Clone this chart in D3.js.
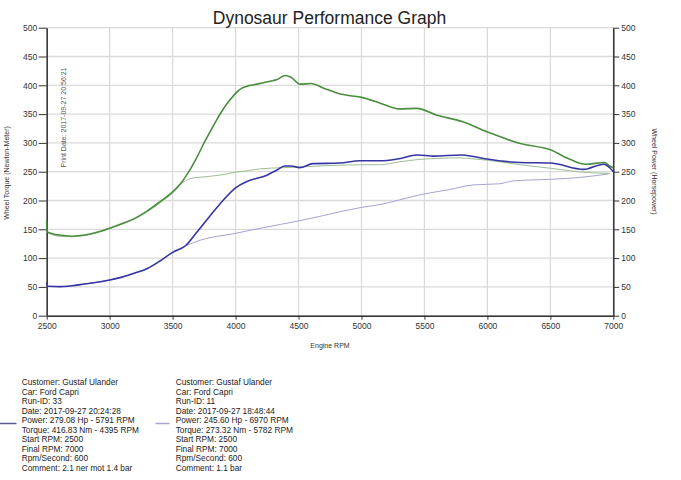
<!DOCTYPE html>
<html>
<head>
<meta charset="utf-8">
<script src="https://cdn.jsdelivr.net/npm/d3@7/dist/d3.min.js"></script>
<style>
  html, body { margin: 0; padding: 0; background: #fff; }
  svg { display: block; font-family: "Liberation Sans", Arial, sans-serif; }
</style>
</head>
<body>
<svg id="chart" width="681" height="480"></svg>
<script>
// ---------- DATA ----------
const xTicks = [2500, 3000, 3500, 4000, 4500, 5000, 5500, 6000, 6500, 7000];
const yTicks = [0, 50, 100, 150, 200, 250, 300, 350, 400, 450, 500];

// Run 33 – wheel torque (Nm)
const run33TorqueRpm = [2500, 2502, 2550, 2600, 2700, 2800, 2900, 3000, 3100, 3200, 3300, 3400, 3500, 3580, 3620, 3700, 3750, 3800, 3850, 3900, 3950, 4000, 4050, 4100, 4170, 4275, 4330, 4395, 4440, 4512, 4600, 4700, 4830, 4910, 5000, 5150, 5300, 5440, 5600, 5800, 6000, 6260, 6500, 6660, 6780, 6930, 6970, 7000];
const run33Torque    = [165, 146, 142, 140, 138, 140, 145, 152, 160, 169, 182, 198, 215, 234, 247, 278, 300, 320, 340, 358, 373, 386, 395, 399, 402, 407, 410, 417, 414, 402, 403, 395, 385, 382, 379, 369, 359, 360, 348, 337, 319, 299, 288, 271, 263, 266, 260, 257];

// Run 11 – wheel torque (Nm)
const run11TorqueRpm = [2500, 2520, 2600, 2700, 2800, 2900, 3000, 3100, 3200, 3300, 3400, 3500, 3580, 3640, 3700, 3800, 3900, 4000, 4100, 4200, 4376, 4500, 4773, 5000, 5143, 5300, 5443, 5600, 5782, 5900, 6000, 6262, 6500, 6765, 6976];
const run11Torque    = [148, 143, 138, 137, 139, 144, 151, 159, 168, 181, 196, 213, 231, 238, 240, 242, 245, 249, 252, 255, 257, 258, 261, 262, 262, 267, 271, 273, 274, 272, 270, 262, 256, 249, 247];

// Run 33 – wheel power (hp)
const run33PowerRpm = [2500, 2505, 2600, 2700, 2800, 2900, 3000, 3100, 3200, 3300, 3400, 3500, 3600, 3700, 3800, 3900, 4000, 4090, 4249, 4329, 4390, 4440, 4508, 4614, 4826, 4985, 5150, 5284, 5443, 5575, 5791, 5900, 5998, 6262, 6500, 6765, 6923, 6976, 7000];
const run33Power    = [58, 51, 50.5, 52, 55, 58, 62, 67, 74, 82, 95, 110, 121, 147, 174, 200, 222, 233, 244, 253, 260, 260, 257, 264, 265, 269, 269, 272, 279, 277, 279, 276, 272, 266, 265, 254, 263, 256, 250];

// Run 11 – wheel power (hp)
const run11PowerRpm = [2500, 2600, 2700, 2800, 2900, 3000, 3100, 3200, 3300, 3400, 3500, 3600, 3718, 4000, 4200, 4511, 4700, 4829, 5000, 5171, 5300, 5489, 5700, 5886, 6097, 6203, 6521, 6733, 6958];
const run11Power    = [52, 50.5, 52, 55, 58, 62, 67, 74, 82, 95, 110, 121, 131, 143, 152, 165, 174, 180.5, 188, 194, 201, 211, 219, 227, 229, 234, 237, 240, 246];

const legend33 = ["Customer: Gustaf Ulander", "Car: Ford Capri", "Run-ID: 33", "Date: 2017-09-27 20:24:28", "Power: 279.08 Hp - 5791 RPM", "Torque: 416.83 Nm - 4395 RPM", "Start RPM: 2500", "Final RPM: 7000", "Rpm/Second: 600", "Comment: 2.1 ner mot 1.4 bar"];
const legend11 = ["Customer: Gustaf Ulander", "Car: Ford Capri", "Run-ID: 11", "Date: 2017-09-27 18:48:44", "Power: 245.60 Hp - 6970 RPM", "Torque: 273.32 Nm - 5782 RPM", "Start RPM: 2500", "Final RPM: 7000", "Rpm/Second: 600", "Comment: 1.1 bar"];

// ---------- CHART ----------
const svg = d3.select("#chart");
const L = 46.7, R = 613.3, T = 27.7, B = 315.7;
const x = d3.scaleLinear().domain([2500, 7000]).range([L, R]);
const y = d3.scaleLinear().domain([0, 500]).range([B, T]);

// grid
const grid = svg.append("g");
grid.selectAll("line.v").data(xTicks).join("line")
  .attr("x1", d => x(d)).attr("x2", d => x(d)).attr("y1", T).attr("y2", B)
  .attr("stroke", "#dadada").attr("stroke-width", 1.3);
grid.selectAll("line.h").data(yTicks).join("line")
  .attr("x1", L).attr("x2", R).attr("y1", d => y(d)).attr("y2", d => y(d))
  .attr("stroke", "#dadada").attr("stroke-width", 1.3);

function styleAxis(g) {
  g.selectAll("path").attr("stroke", "#333").attr("stroke-width", 1.5);
  g.selectAll("line").attr("stroke", "#333").attr("stroke-width", 1);
  g.selectAll("text").attr("fill", "#333").style("font-size", "8.5px")
    .style("font-family", "'Liberation Sans', Arial, sans-serif");
}

svg.append("g").attr("transform", `translate(0,${B})`)
  .call(d3.axisBottom(x).tickValues(xTicks).tickSize(4).tickPadding(3).tickSizeOuter(0).tickFormat(d3.format("d")))
  .call(styleAxis);
svg.append("g").attr("transform", `translate(${L},0)`)
  .call(d3.axisLeft(y).tickValues(yTicks).tickSize(8).tickPadding(1.5).tickSizeOuter(0).tickFormat(d3.format("d")))
  .call(styleAxis);
svg.append("g").attr("transform", `translate(${R},0)`)
  .call(d3.axisRight(y).tickValues(yTicks).tickSize(6).tickPadding(2).tickSizeOuter(0).tickFormat(d3.format("d")))
  .call(styleAxis);

// lines
const line = d3.line().x(d => x(d[0])).y(d => y(d[1])).curve(d3.curveMonotoneX);
function series(rpm, vals, color, width) {
  svg.append("path").datum(rpm.map((r, i) => [r, vals[i]]))
    .attr("d", line).attr("fill", "none").attr("stroke", color)
    .attr("stroke-width", width).attr("stroke-linejoin", "round");
}
series(run11TorqueRpm, run11Torque, "#9dbd95", 1);
series(run11PowerRpm, run11Power, "#a3a3d3", 1);
series(run33TorqueRpm, run33Torque, "#4a8e3e", 1.6);
series(run33PowerRpm, run33Power, "#3535a3", 1.6);

// title & labels
svg.append("text").attr("x", 329.5).attr("y", 24).attr("text-anchor", "middle")
  .style("font-size", "17.5px").attr("fill", "#222").text("Dynosaur Performance Graph");
svg.append("text").attr("x", 330).attr("y", 348).attr("text-anchor", "middle")
  .style("font-size", "7px").attr("fill", "#333").text("Engine RPM");
svg.append("text").attr("transform", "translate(8.5,173) rotate(-90)").attr("text-anchor", "middle")
  .style("font-size", "7px").attr("fill", "#333").text("Wheel Torque (Newton-Meter)");
svg.append("text").attr("transform", "translate(652,171.5) rotate(90)").attr("text-anchor", "middle")
  .style("font-size", "7px").attr("fill", "#333").text("Wheel Power (Horsepower)");
svg.append("text").attr("transform", "translate(66,117.5) rotate(-90)").attr("text-anchor", "middle")
  .style("font-size", "7px").attr("fill", "#555").text("Print Date: 2017-09-27 20:56:21");

// legend
function legend(lines, tx, lx1, lx2, color) {
  const g = svg.append("g");
  g.selectAll("text").data(lines).join("text")
    .attr("x", tx).attr("y", (d, i) => 385.3 + i * 9.5)
    .style("font-size", "8.3px").attr("fill", "#222").text(d => d);
  g.append("line").attr("x1", lx1).attr("x2", lx2).attr("y1", 423.5).attr("y2", 423.5)
    .attr("stroke", color).attr("stroke-width", 1.5);
}
legend(legend33, 21.7, 0, 16.5, "#5a5a90");
legend(legend11, 175.7, 155.5, 169.5, "#a5a5cf");
</script>
</body>
</html>
